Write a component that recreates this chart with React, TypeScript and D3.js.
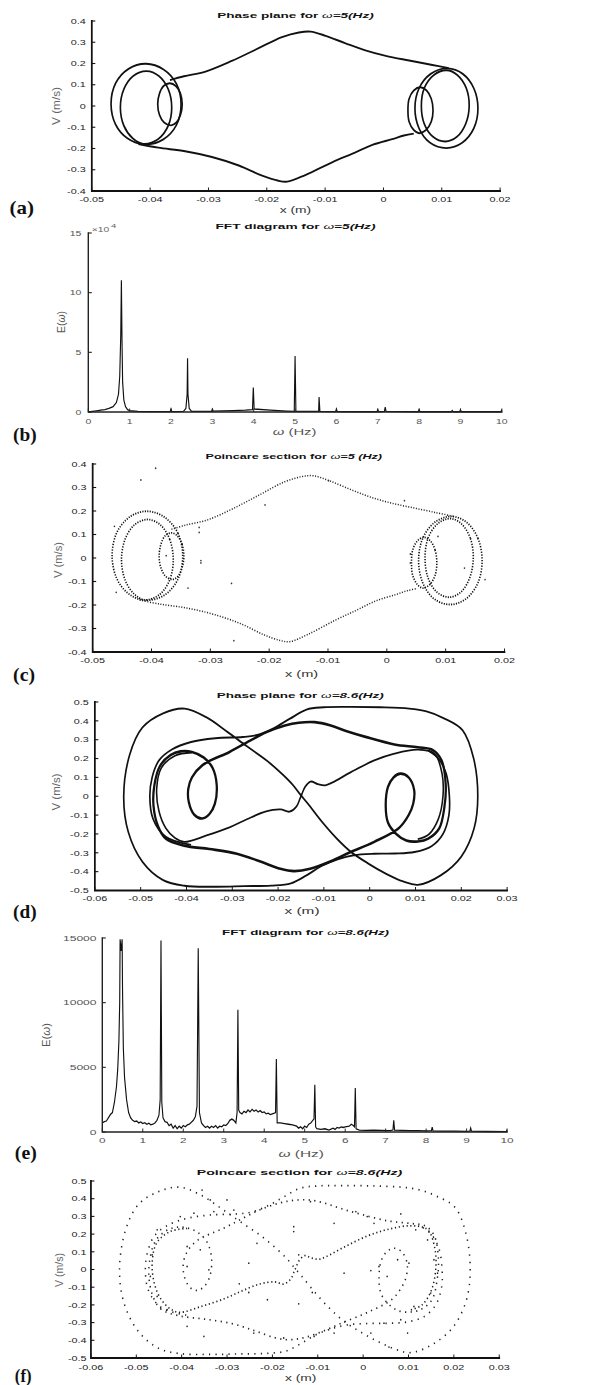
import React from 'react';
import * as d3 from 'd3';

type Pt = [number, number];

const SANS = "'Liberation Sans', Arial, Helvetica, sans-serif";
const SERIF = "'Liberation Serif', 'Times New Roman', serif";

// ---------------- tick values & labels ----------------
const xTicksW5 = [-0.05, -0.04, -0.03, -0.02, -0.01, 0, 0.01, 0.02];
const xTickLabelsW5 = ['-0.05', '-0.04', '-0.03', '-0.02', '-0.01', '0', '0.01', '0.02'];
const yTicksW5 = [0.4, 0.3, 0.2, 0.1, 0, -0.1, -0.2, -0.3, -0.4];
const yTickLabelsW5 = ['0.4', '0.3', '0.2', '0.1', '0', '-0.1', '-0.2', '-0.3', '-0.4'];
const xTicksW86 = [-0.06, -0.05, -0.04, -0.03, -0.02, -0.01, 0, 0.01, 0.02, 0.03];
const xTickLabelsW86 = ['-0.06', '-0.05', '-0.04', '-0.03', '-0.02', '-0.01', '0', '0.01', '0.02', '0.03'];
const yTicksW86 = [0.5, 0.4, 0.3, 0.2, 0.1, 0, -0.1, -0.2, -0.3, -0.4, -0.5];
const yTickLabelsW86 = ['0.5', '0.4', '0.3', '0.2', '0.1', '0', '-0.1', '-0.2', '-0.3', '-0.4', '-0.5'];
const fftXTicks = [0, 1, 2, 3, 4, 5, 6, 7, 8, 9, 10];
const fftXTickLabels = ['0', '1', '2', '3', '4', '5', '6', '7', '8', '9', '10'];
const fftYTicksB = [0, 5, 10, 15];
const fftYTickLabelsB = ['0', '5', '10', '15'];
const fftYTicksE = [0, 5000, 10000, 15000];
const fftYTickLabelsE = ['0', '5000', '10000', '15000'];

// ---------------- omega = 5 Hz : phase plane (x [m], v [m/s]) ----------------
const w5Top: Pt[] = [
  [-0.0366, 0.122], [-0.0342, 0.14], [-0.0305, 0.162], [-0.026, 0.212], [-0.0214, 0.272],
  [-0.0174, 0.324], [-0.0145, 0.346], [-0.0125, 0.35], [-0.0099, 0.33], [-0.0065, 0.295],
  [-0.0031, 0.262], [0.0004, 0.236], [0.0044, 0.214], [0.0084, 0.193], [0.0112, 0.178],
];
const w5Bottom: Pt[] = [
  [-0.042, -0.179], [-0.0386, -0.196], [-0.034, -0.213], [-0.0294, -0.24], [-0.0248, -0.28],
  [-0.0208, -0.328], [-0.018, -0.352], [-0.0165, -0.356], [-0.0134, -0.325], [-0.0088, -0.265],
  [-0.0053, -0.224], [-0.0019, -0.183], [0.0015, -0.156], [0.0035, -0.139], [0.0052, -0.13],
];
const w5LoopLeftOuter: Pt[] = [
  [-0.0347, 0.01], [-0.0355, 0.105], [-0.0377, 0.172], [-0.0407, 0.199], [-0.0437, 0.175], [-0.0459, 0.108],
  [-0.0467, 0.01], [-0.0459, -0.088], [-0.0439, -0.152], [-0.0412, -0.18], [-0.0378, -0.158], [-0.0355, -0.09],
];
const w5LoopLeftInner: Pt[] = [
  [-0.0363, -0.007], [-0.0369, 0.079], [-0.0385, 0.141], [-0.0406, 0.164], [-0.0429, 0.141], [-0.0445, 0.079],
  [-0.0451, -0.007], [-0.0445, -0.093], [-0.043, -0.152], [-0.0412, -0.178], [-0.0386, -0.155], [-0.0369, -0.093],
];
const w5LoopLeftSmall: Pt[] = [
  [-0.0345, 0.008], [-0.0348, 0.058], [-0.0356, 0.094], [-0.0366, 0.107], [-0.0377, 0.094], [-0.0384, 0.058],
  [-0.0387, 0.008], [-0.0384, -0.042], [-0.0376, -0.078], [-0.0364, -0.091], [-0.0355, -0.078], [-0.0348, -0.042],
];
const w5LoopRightOuter: Pt[] = [
  [0.0162, -0.011], [0.0155, 0.083], [0.0136, 0.151], [0.011, 0.177], [0.0081, 0.151], [0.0061, 0.083],
  [0.0054, -0.011], [0.0061, -0.105], [0.008, -0.173], [0.0108, -0.198], [0.0135, -0.173], [0.0155, -0.105],
];
const w5LoopRightInner: Pt[] = [
  [0.0147, 0.0], [0.0142, 0.084], [0.0127, 0.145], [0.0108, 0.168], [0.0086, 0.145], [0.007, 0.084],
  [0.0065, 0.0], [0.007, -0.084], [0.0085, -0.145], [0.0106, -0.167], [0.0126, -0.145], [0.0141, -0.084],
];
const w5LoopRightSmall: Pt[] = [
  [0.0085, -0.02], [0.0082, 0.034], [0.0074, 0.073], [0.0063, 0.088], [0.0052, 0.073], [0.0044, 0.034],
  [0.0042, -0.02], [0.0044, -0.074], [0.0052, -0.113], [0.0061, -0.128], [0.0073, -0.113], [0.0082, -0.074],
];
const w5PoincareStray: Pt[] = [
  [-0.0393, 0.382], [-0.0418, 0.332], [-0.0463, 0.135], [-0.046, -0.146], [-0.0319, 0.13],
  [-0.0319, 0.109], [-0.0316, -0.011], [-0.0316, -0.021], [-0.0338, -0.128], [-0.0264, -0.108],
  [-0.0207, 0.226], [-0.026, -0.352], [-0.0099, 0.329], [0.003, 0.244], [0.0087, 0.092],
  [0.0132, -0.043], [0.0167, -0.092], [0.004, -0.021], [0.004, 0.017], [-0.0375, 0.01],
];

// ---------------- omega = 5 Hz : FFT (E in 1e4) ----------------
const fftFreqB = [
  0, 0.1, 0.2, 0.3, 0.4, 0.5, 0.6, 0.68, 0.73, 0.76, 0.785, 0.8, 0.815, 0.83, 0.86, 0.9, 0.95, 1.0,
  1.2, 1.5, 1.98, 2.0, 2.02, 2.3, 2.36, 2.39, 2.4, 2.41, 2.44, 2.5, 2.98, 3.0, 3.02, 3.5, 3.8, 3.97,
  3.99, 4.01, 4.4, 4.8, 4.98, 5.0, 5.02, 5.57, 5.58, 5.6, 5.98, 6.0, 6.02, 6.98, 7.0, 7.02, 7.16, 7.18,
  7.2, 7.98, 8.0, 8.02, 8.78, 8.8, 8.82, 8.98, 9.0, 9.02, 9.98, 10,
];
const fftEnergyB = [
  0.0, 0.05, 0.1, 0.15, 0.2, 0.3, 0.45, 0.8, 1.5, 3.0, 6.5, 11.05, 6.0, 2.5, 1.0, 0.45, 0.2, 0.12,
  0.05, 0.03, 0.03, 0.25, 0.03, 0.05, 0.3, 1.5, 4.5, 1.5, 0.3, 0.05, 0.05, 0.25, 0.08, 0.12, 0.15, 0.2,
  2.05, 0.25, 0.15, 0.08, 0.05, 4.7, 0.05, 0.05, 1.25, 0.05, 0.03, 0.25, 0.03, 0.02, 0.2, 0.02, 0.05, 0.4,
  0.05, 0.02, 0.2, 0.02, 0.02, 0.12, 0.02, 0.02, 0.2, 0.02, 0.02, 0.2,
];

// ---------------- omega = 8.6 Hz : phase plane ----------------
const w86Outer: Pt[] = [
  [-0.039, -0.258], [-0.0445, -0.215], [-0.0473, -0.12], [-0.048, 0.0], [-0.0475, 0.1],
  [-0.046, 0.19], [-0.0432, 0.248], [-0.039, 0.288], [-0.0337, 0.308], [-0.0277, 0.314],
  [-0.0245, 0.325], [-0.021, 0.36], [-0.0175, 0.41], [-0.0138, 0.46], [-0.01, 0.472],
  [-0.0045, 0.474], [0.0023, 0.472], [0.0086, 0.465], [0.0124, 0.45], [0.0161, 0.415],
  [0.0203, 0.35], [0.0227, 0.2], [0.0236, 0.0], [0.0228, -0.17], [0.02, -0.32],
  [0.0155, -0.42], [0.0105, -0.47], [0.0073, -0.452], [0.0035, -0.41], [-0.0003, -0.357],
  [-0.0041, -0.295], [-0.0072, -0.224], [-0.0104, -0.136], [-0.0135, -0.039], [-0.0151, 0.008],
  [-0.0167, 0.058], [-0.019, 0.115], [-0.0225, 0.19], [-0.0268, 0.265], [-0.031, 0.34],
  [-0.0356, 0.418], [-0.0404, 0.465], [-0.0451, 0.44], [-0.0496, 0.365], [-0.0524, 0.22],
  [-0.0537, 0.0], [-0.0527, -0.19], [-0.0496, -0.348], [-0.0451, -0.445], [-0.0404, -0.475],
  [-0.0337, -0.48], [-0.0274, -0.477], [-0.0215, -0.474], [-0.0172, -0.462], [-0.0138, -0.42],
  [-0.0105, -0.37], [-0.007, -0.335], [-0.0035, -0.313], [0.001, -0.305], [0.0055, -0.304],
  [0.0098, -0.296], [0.0135, -0.265], [0.016, -0.2], [0.0173, -0.1], [0.0174, 0.0],
  [0.0167, 0.12], [0.015, 0.2], [0.0128, 0.242],
];
const w86Inner: Pt[] = [
  [-0.0405, -0.262], [-0.0445, -0.225], [-0.0462, -0.16], [-0.0472, -0.05], [-0.047, 0.06],
  [-0.0458, 0.16], [-0.0435, 0.218], [-0.0413, 0.238], [-0.0388, 0.235], [-0.0362, 0.205],
  [-0.0343, 0.15], [-0.0334, 0.06], [-0.0338, -0.04], [-0.035, -0.095], [-0.0366, -0.118],
  [-0.0383, -0.098], [-0.0395, -0.03], [-0.0396, 0.04], [-0.0388, 0.1], [-0.0365, 0.165],
  [-0.0306, 0.235], [-0.0261, 0.295], [-0.0225, 0.34], [-0.0185, 0.375], [-0.0155, 0.39],
  [-0.012, 0.393], [-0.0085, 0.375], [-0.005, 0.345], [-0.0009, 0.315], [0.0054, 0.275],
  [0.0105, 0.26], [0.0138, 0.245], [0.0157, 0.19], [0.0166, 0.06], [0.0163, -0.06],
  [0.0152, -0.17], [0.0128, -0.225], [0.0105, -0.24], [0.008, -0.235], [0.0058, -0.2],
  [0.004, -0.14], [0.0035, -0.05], [0.004, 0.05], [0.0052, 0.1], [0.0067, 0.12],
  [0.0085, 0.1], [0.0097, 0.035], [0.0095, -0.04], [0.0085, -0.1], [0.0064, -0.168],
  [0.001, -0.242], [-0.0045, -0.3], [-0.0085, -0.345], [-0.013, -0.385], [-0.0165, -0.397],
  [-0.0195, -0.385], [-0.024, -0.345], [-0.029, -0.305], [-0.035, -0.28],
];
const w86S: Pt[] = [
  [-0.0388, 0.232], [-0.0425, 0.215], [-0.0455, 0.15], [-0.0465, 0.04], [-0.046, -0.08],
  [-0.0445, -0.17], [-0.0425, -0.222], [-0.0405, -0.242], [-0.0356, -0.208], [-0.0306, -0.165],
  [-0.0268, -0.122], [-0.0228, -0.082], [-0.0195, -0.07], [-0.0175, -0.082], [-0.016, -0.055],
  [-0.0152, -0.012], [-0.0148, 0.012], [-0.0141, 0.05], [-0.0129, 0.078], [-0.0113, 0.064],
  [-0.0097, 0.058], [-0.0082, 0.072], [-0.004, 0.129], [0.001, 0.19], [0.0054, 0.226],
  [0.0105, 0.247], [0.0142, 0.225], [0.0158, 0.12], [0.016, 0.0], [0.015, -0.12],
  [0.013, -0.2], [0.0105, -0.228],
];
const w86PoincareStray: Pt[] = [
  [-0.0234, 0.148], [-0.0153, 0.242], [-0.0153, 0.214], [-0.0142, 0.083], [-0.0252, 0.036],
  [-0.0273, -0.081], [-0.0252, -0.13], [-0.0211, -0.171], [-0.0142, -0.194], [-0.0112, -0.13],
  [-0.0042, -0.021], [0.0017, -0.006], [0.0035, 0.017], [-0.0116, 0.383], [-0.0064, 0.261],
  [-0.0016, 0.327], [0.0009, 0.299], [0.0024, 0.261], [0.0083, 0.314], [0.0116, 0.224],
  [0.0142, 0.167], [0.0156, 0.055], [0.0164, -0.021], [0.0149, -0.133], [0.0112, -0.209],
  [0.0083, -0.284], [0.0046, -0.303], [0.0017, -0.359], [0.0098, -0.359], [0.0057, -0.438],
  [-0.0064, -0.359], [-0.0108, -0.378], [-0.0175, -0.387], [-0.0241, -0.359], [-0.0351, -0.378],
  [-0.0388, -0.321], [-0.0432, -0.227], [-0.0454, -0.152], [-0.0469, -0.039], [-0.0465, 0.083],
  [-0.0454, 0.224], [-0.0403, 0.299], [-0.0373, 0.318], [-0.0329, 0.327], [-0.0285, 0.336],
  [-0.0337, 0.393], [-0.03, 0.393], [-0.0355, 0.449], [-0.0388, 0.13], [-0.0359, 0.111],
  [-0.0388, 0.017], [-0.034, -0.002], [0.0101, 0.036], [0.0076, 0.055], [0.0053, -0.039],
];

// ---------------- omega = 8.6 Hz : FFT ----------------
const fftFreqE = [
  0, 0.05, 0.1, 0.15, 0.2, 0.25, 0.3, 0.35, 0.38, 0.41, 0.43, 0.44, 0.465, 0.49, 0.5, 0.52, 0.55, 0.6,
  0.65, 0.7, 0.75, 0.8, 0.85, 0.9, 0.95, 1.0, 1.05, 1.1, 1.15, 1.2, 1.25, 1.3, 1.35, 1.4, 1.43, 1.45,
  1.47, 1.5, 1.55, 1.6, 1.65, 1.7, 1.75, 1.8, 1.85, 1.9, 1.95, 2.0, 2.05, 2.1, 2.15, 2.2, 2.25, 2.3,
  2.34, 2.37, 2.4, 2.45, 2.5, 2.55, 2.6, 2.65, 2.7, 2.75, 2.8, 2.85, 2.9, 2.95, 3.0, 3.05, 3.1, 3.15,
  3.2, 3.25, 3.3, 3.33, 3.35, 3.37, 3.4, 3.45, 3.5, 3.55, 3.6, 3.65, 3.7, 3.75, 3.8, 3.85, 3.9, 3.95,
  4.0, 4.05, 4.1, 4.15, 4.2, 4.25, 4.28, 4.3, 4.32, 4.4, 4.5, 4.6, 4.7, 4.8, 4.85, 4.9, 4.95, 5.0,
  5.05, 5.1, 5.15, 5.2, 5.23, 5.25, 5.27, 5.3, 5.4, 5.5, 5.6, 5.7, 5.75, 5.8, 5.85, 5.9, 5.95, 6.0,
  6.1, 6.15, 6.2, 6.23, 6.25, 6.27, 6.35, 6.5, 6.7, 6.9, 7.1, 7.18, 7.2, 7.22, 7.4, 7.6, 7.8, 8.0,
  8.13, 8.15, 8.17, 8.4, 8.7, 9.0, 9.08, 9.1, 9.12, 9.5, 9.98, 10.0,
];
const fftEnergyE = [
  700, 800, 850, 1100, 1350, 1500, 2300, 3500, 4800, 7000, 10000, 14900, 14000, 14900, 11000, 6500, 4200, 2500,
  1500, 1100, 900, 800, 850, 700, 780, 650, 720, 600, 680, 550, 600, 700, 900, 1300, 2500, 14800,
  2300, 1100, 800, 750, 500, 600, 300, 500, 250, 450, 300, 500, 400, 550, 600, 750, 900, 1200,
  2000, 14200, 1500, 700, 500, 350, 450, 300, 450, 350, 500, 300, 450, 400, 550, 500, 650, 900,
  1000, 900, 700, 1500, 9450, 1700, 1500, 1400, 1600, 1500, 1700, 1550, 1750, 1600, 1700, 1550, 1650, 1500,
  1550, 1400, 1450, 1350, 1400, 1450, 1500, 5650, 700, 700, 650, 600, 550, 450, 300, 400, 250, 450,
  350, 600, 700, 900, 1000, 3650, 400, 250, 200, 250, 150, 300, 200, 350, 300, 400, 350, 400,
  450, 600, 500, 400, 3400, 250, 150, 120, 150, 120, 100, 150, 900, 150, 120, 100, 110, 80,
  100, 380, 90, 70, 60, 50, 60, 300, 60, 40, 30, 180,
];

// horizontal compression of the whole figure (reference is squeezed horizontally)
const SQUEEZE = 0.8743;

// ---------------- helpers ----------------
const ST = ({ x, y, s = 1.65, fs = 7.5, anchor = 'middle', fill = '#222', weight = 'normal', fstyle = 'normal', family = SANS, children }: any) => (
  <text transform={`translate(${x},${y}) scale(${s},1)`} fontSize={fs} textAnchor={anchor} fill={fill}
    fontWeight={weight} fontStyle={fstyle} fontFamily={family}>{children}</text>
);

const Title = ({ cx, y, w, children }: any) => (
  <text x={cx} y={y} textAnchor="middle" fontSize={7.8} fontWeight="bold" fontFamily={SANS} fill="#111"
    textLength={w} lengthAdjust="spacingAndGlyphs">{children}</text>
);

const XLab = ({ cx, y, w, children, fill = '#333' }: any) => (
  <text x={cx} y={y} textAnchor="middle" fontSize={9} fontFamily={SANS} fill={fill}
    textLength={w} lengthAdjust="spacingAndGlyphs">{children}</text>
);

const YLab = ({ x, y, len, children, fill = '#666', fs = 9.5 }: any) => (
  <text transform={`translate(${x},${y}) rotate(-90) scale(1,1.25)`} textAnchor="middle" fontSize={fs} fill={fill}
    fontFamily={SANS} textLength={len} lengthAdjust="spacingAndGlyphs">{children}</text>
);

const PanelTag = ({ x, y, w, children }: any) => (
  <text x={x} y={y} fontSize={18} fontWeight="bold" fontFamily={SERIF} fill="#111"
    textLength={w} lengthAdjust="spacingAndGlyphs">{children}</text>
);

const Axes = ({ xs, ys, xTicks, xLabels, yTicks, yLabels, xLabY, yLabGap = 7, tickFill = '#222', sX = 1.65, sY = 1.65, lw = 2, stroke = '#111' }: any) => {
  const [x0, x1] = xs.range();
  const [yb, yt] = ys.range();
  return (
    <g>
      {xTicks.map((t: number, i: number) => (
        <g key={'x' + i}>
          <line x1={xs(t)} x2={xs(t)} y1={yb} y2={yb - 3.5} stroke={stroke} strokeWidth={1.1} />
          <ST x={xs(t)} y={xLabY} s={sX} fill={tickFill}>{xLabels[i]}</ST>
        </g>
      ))}
      {yTicks.map((t: number, i: number) => (
        <g key={'y' + i}>
          <line x1={x0} x2={x0 + 4} y1={ys(t)} y2={ys(t)} stroke={stroke} strokeWidth={1.1} />
          <ST x={x0 - yLabGap} y={ys(t) + 2.7} s={sY} anchor="end" fill={tickFill}>{yLabels[i]}</ST>
        </g>
      ))}
      <path d={`M${x0},${yt}L${x0},${yb}L${x1},${yb}`} fill="none" stroke={stroke} strokeWidth={lw} strokeLinecap="square" />
    </g>
  );
};

const mkLine = (xs: any, ys: any, closed = false) =>
  d3.line<Pt>().x((d) => xs(d[0])).y((d) => ys(d[1]))
    .curve(closed ? d3.curveCatmullRomClosed.alpha(0.5) : d3.curveCatmullRom.alpha(0.5));

export default function App() {
  // scales (in un-squeezed layout units)
  const xa = d3.scaleLinear().domain([-0.05, 0.02]).range([105, 572]);
  const ya = d3.scaleLinear().domain([-0.4, 0.4]).range([191, 21]);
  const xb = d3.scaleLinear().domain([0, 10]).range([101, 574]);
  const yb = d3.scaleLinear().domain([0, 15]).range([412, 233]);
  const xc = d3.scaleLinear().domain([-0.05, 0.02]).range([106, 577]);
  const yc = d3.scaleLinear().domain([-0.4, 0.4]).range([652, 464]);
  const xd = d3.scaleLinear().domain([-0.06, 0.03]).range([108.5, 580]);
  const yd = d3.scaleLinear().domain([-0.5, 0.5]).range([890.5, 702]);
  const xe = d3.scaleLinear().domain([0, 10]).range([117, 580]);
  const ye = d3.scaleLinear().domain([0, 15000]).range([1132, 938]);
  const xf = d3.scaleLinear().domain([-0.06, 0.03]).range([104, 571]);
  const yf = d3.scaleLinear().domain([-0.5, 0.5]).range([1358, 1181]);

  const loops5 = [w5LoopLeftOuter, w5LoopLeftInner, w5LoopLeftSmall, w5LoopRightOuter, w5LoopRightInner, w5LoopRightSmall];
  const open5 = [w5Top, w5Bottom];

  const la = mkLine(xa, ya), laC = mkLine(xa, ya, true);
  const lc = mkLine(xc, yc), lcC = mkLine(xc, yc, true);
  const ld = mkLine(xd, yd), ldC = mkLine(xd, yd, true);
  const lf = mkLine(xf, yf), lfC = mkLine(xf, yf, true);

  const fftB = d3.line<number>().x((d, i) => xb(fftFreqB[i])).y((d) => yb(d));
  const fftE = d3.line<number>().x((d, i) => xe(fftFreqE[i])).y((d) => ye(d));

  return (
    <svg width={598} height={1385} viewBox="0 0 598 1385" style={{ position: 'absolute', left: 0, top: 0, background: '#fff' }}>
      <rect x={0} y={0} width={598} height={1385} fill="#fff" />
      <g transform={`scale(${SQUEEZE},1)`}>

        {/* ---------- (a) ---------- */}
        <Title cx={338} y={18.5} w={179}>Phase plane for <tspan fontWeight="normal" fontStyle="italic">ω</tspan><tspan fontStyle="italic">=5(Hz)</tspan></Title>
        {loops5.map((p, i) => <path key={'a' + i} d={laC(p) || ''} fill="none" stroke="#111" strokeWidth={1.9} />)}
        {open5.map((p, i) => <path key={'ao' + i} d={la(p) || ''} fill="none" stroke="#111" strokeWidth={1.9} />)}
        <Axes xs={xa} ys={ya} xTicks={xTicksW5} xLabels={xTickLabelsW5} yTicks={yTicksW5} yLabels={yTickLabelsW5} xLabY={202} />
        <XLab cx={338} y={213.5} w={36}>x (m)</XLab>
        <YLab x={69} y={106} len={38}>V (m/s)</YLab>
        <PanelTag x={11} y={214.5} w={28}>(a)</PanelTag>

        {/* ---------- (b) ---------- */}
        <Title cx={338} y={229.5} w={183}>FFT diagram for <tspan fontWeight="normal" fontStyle="italic">ω</tspan><tspan fontStyle="italic">=5(Hz)</tspan></Title>
        <path d={fftB(fftEnergyB) || ''} fill="none" stroke="#111" strokeWidth={1.3} />
        <Axes xs={xb} ys={yb} xTicks={fftXTicks} xLabels={fftXTickLabels} yTicks={fftYTicksB} yLabels={fftYTickLabelsB}
          xLabY={424} yLabGap={8} tickFill="#555" sX={1.6} sY={1.6} lw={1.6} stroke="#222" />
        <text x={105} y={232} fontSize={7.5} fill="#666" fontFamily={SANS} textLength={20} lengthAdjust="spacingAndGlyphs">×10</text>
        <text x={127} y={228.5} fontSize={5.5} fill="#666" fontFamily={SANS} textLength={6} lengthAdjust="spacingAndGlyphs">4</text>
        <XLab cx={337} y={435.5} w={50} fill="#555"><tspan fontStyle="italic">ω</tspan> (Hz)</XLab>
        <YLab x={74} y={322} len={22} fill="#555">E(<tspan fontStyle="italic">ω</tspan>)</YLab>
        <PanelTag x={15} y={441.5} w={27}>(b)</PanelTag>

        {/* ---------- (c) ---------- */}
        <Title cx={336} y={459.5} w={202}>Poincare section for <tspan fontWeight="normal" fontStyle="italic">ω</tspan><tspan fontStyle="italic">=5 (Hz)</tspan></Title>
        {loops5.map((p, i) => <path key={'c' + i} d={lcC(p) || ''} fill="none" stroke="#111" strokeWidth={1.8} strokeDasharray="1.3 1.5" />)}
        {open5.map((p, i) => <path key={'co' + i} d={lc(p) || ''} fill="none" stroke="#222" strokeWidth={1.5} strokeDasharray="1.2 1.8" />)}
        {w5PoincareStray.map((p, i) => <circle key={'cs' + i} cx={xc(p[0])} cy={yc(p[1])} r={0.9} fill="#333" />)}
        <Axes xs={xc} ys={yc} xTicks={xTicksW5} xLabels={xTickLabelsW5} yTicks={yTicksW5} yLabels={yTickLabelsW5} xLabY={663} />
        <XLab cx={345} y={677.5} w={38}>x (m)</XLab>
        <YLab x={70.5} y={560} len={36}>V (m/s)</YLab>
        <PanelTag x={15} y={681} w={25}>(c)</PanelTag>

        {/* ---------- (d) ---------- */}
        <Title cx={343.5} y={698.5} w={191}>Phase plane for <tspan fontWeight="normal" fontStyle="italic">ω</tspan><tspan fontStyle="italic">=8.6(Hz)</tspan></Title>
        <path d={ld(w86Outer) || ''} fill="none" stroke="#111" strokeWidth={1.9} />
        <path d={ldC(w86Inner) || ''} fill="none" stroke="#111" strokeWidth={2.6} />
        <path d={ld(w86S) || ''} fill="none" stroke="#111" strokeWidth={1.8} />
        <Axes xs={xd} ys={yd} xTicks={xTicksW86} xLabels={xTickLabelsW86} yTicks={yTicksW86} yLabels={yTickLabelsW86} xLabY={900.5} />
        <XLab cx={345.5} y={914} w={40}>x (m)</XLab>
        <YLab x={68.5} y={792} len={37}>V (m/s)</YLab>
        <PanelTag x={15} y={918} w={27}>(d)</PanelTag>

        {/* ---------- (e) ---------- */}
        <Title cx={349.5} y={935.5} w={191}>FFT diagram for <tspan fontWeight="normal" fontStyle="italic">ω</tspan><tspan fontStyle="italic">=8.6(Hz)</tspan></Title>
        <path d={fftE(fftEnergyE) || ''} fill="none" stroke="#111" strokeWidth={1.3} />
        <Axes xs={xe} ys={ye} xTicks={fftXTicks} xLabels={fftXTickLabels} yTicks={fftYTicksE} yLabels={fftYTickLabelsE}
          xLabY={1142.5} yLabGap={6.5} tickFill="#555" sX={1.8} sY={1.85} lw={1.6} stroke="#222" />
        <XLab cx={344.5} y={1157} w={52} fill="#555"><tspan fontStyle="italic">ω</tspan> (Hz)</XLab>
        <YLab x={57} y={1035} len={24} fill="#555">E(<tspan fontStyle="italic">ω</tspan>)</YLab>
        <PanelTag x={17} y={1159} w={25}>(e)</PanelTag>

        {/* ---------- (f) ---------- */}
        <Title cx={342.5} y={1175.5} w={235}>Poincare section for <tspan fontWeight="normal" fontStyle="italic">ω</tspan><tspan fontStyle="italic">=8.6(Hz)</tspan></Title>
        <path d={lf(w86Outer) || ''} fill="none" stroke="#222" strokeWidth={1.7} strokeDasharray="1.4 6" />
        <path d={lfC(w86Inner) || ''} fill="none" stroke="#222" strokeWidth={1.7} strokeDasharray="1.4 5" />
        <path d={lf(w86S) || ''} fill="none" stroke="#222" strokeWidth={1.7} strokeDasharray="1.4 3" />
        {w86PoincareStray.map((p, i) => <circle key={'fs' + i} cx={xf(p[0])} cy={yf(p[1])} r={0.9} fill="#222" />)}
        <Axes xs={xf} ys={yf} xTicks={xTicksW86} xLabels={xTickLabelsW86} yTicks={yTicksW86} yLabels={yTickLabelsW86}
          xLabY={1369.5} yLabGap={5} />
        <XLab cx={344} y={1381} w={36}>x (m)</XLab>
        <YLab x={72} y={1270} len={34}>V (m/s)</YLab>
        <PanelTag x={17} y={1382} w={19}>(f)</PanelTag>
      </g>
    </svg>
  );
}
